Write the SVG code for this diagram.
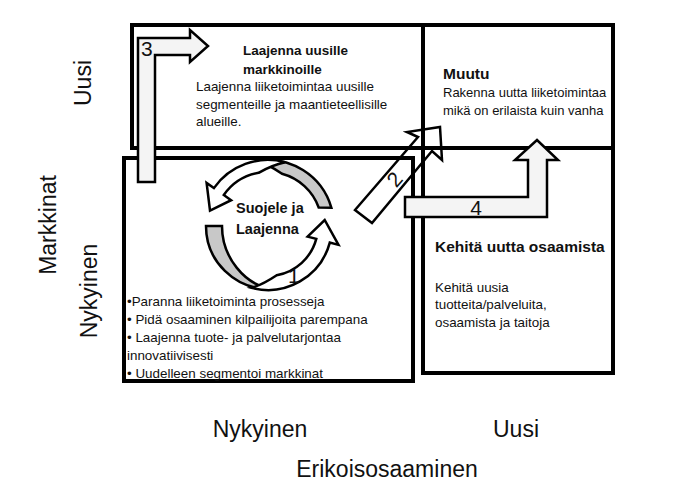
<svg xmlns="http://www.w3.org/2000/svg" width="695" height="495" viewBox="0 0 695 495">
<style>
.box{fill:#fff;stroke:#000;stroke-width:4}
.arr{fill:#f4f4f4;stroke:#000;stroke-width:2.5;stroke-linejoin:miter}
.arrn{fill:none;stroke:#000;stroke-width:2.5}
.gray{fill:#c8c8c8;stroke:#000;stroke-width:2.5}
.white{fill:#fff;stroke:#000;stroke-width:2.5}
.t{font-family:"Liberation Sans",Arial,sans-serif;fill:#111}
.h{font-size:13.5px;font-weight:bold}
.b{font-size:13.4px}
.ax{font-size:23px}
.num{font-size:21px}
</style>
<g id="axes">
<text class="t ax" transform="translate(91,83) rotate(-90)" text-anchor="middle">Uusi</text>
<text class="t ax" transform="translate(97,291) rotate(-90)" text-anchor="middle">Nykyinen</text>
<text class="t ax" transform="translate(56,225) rotate(-90)" text-anchor="middle">Markkinat</text>
<text class="t ax" x="260" y="437" text-anchor="middle">Nykyinen</text>
<text class="t ax" x="516" y="437" text-anchor="middle">Uusi</text>
<text class="t ax" x="387" y="477" text-anchor="middle">Erikoisosaaminen</text>
</g>
<g id="box-new-markets">
<rect class="box" x="132" y="25" width="291" height="123"/>
<text class="t h" x="243" y="55">Laajenna uusille</text>
<text class="t h" x="243" y="74">markkinoille</text>
<text class="t b" x="196" y="91">Laajenna liiketoimintaa uusille</text>
<text class="t b" x="196" y="109">segmenteille ja maantieteellisille</text>
<text class="t b" x="196" y="126">alueille.</text>
</g>
<g id="box-change">
<rect class="box" x="423" y="25" width="190" height="123"/>
<text class="t h" x="443" y="79" style="font-size:15.5px">Muutu</text>
<text class="t b" x="443" y="97" style="font-size:13px">Rakenna uutta liiketoimintaa</text>
<text class="t b" x="443" y="115" style="font-size:13px">mikä on erilaista kuin vanha</text>
</g>
<g id="box-develop">
<rect class="box" x="423" y="148" width="190" height="225"/>
<text class="t h" x="435" y="252" style="font-size:15.5px">Kehitä uutta osaamista</text>
<text class="t b" x="435" y="292">Kehitä uusia</text>
<text class="t b" x="435" y="309">tuotteita/palveluita,</text>
<text class="t b" x="435" y="327">osaamista ja taitoja</text>
</g>
<g id="box-protect">
<rect class="box" x="124" y="158" width="289" height="223"/>
<text class="t b" x="127" y="306">•Paranna liiketoiminta prosesseja</text>
<text class="t b" x="127" y="324">• Pidä osaaminen kilpailijoita parempana</text>
<text class="t b" x="127" y="342">• Laajenna tuote- ja palvelutarjontaa</text>
<text class="t b" x="127" y="360">innovatiivisesti</text>
<text class="t b" x="127" y="378">• Uudelleen segmentoi markkinat</text>
</g>
<g id="cycle">
<path class="gray" d="M318.7,207.5 L331.4,207.8 A66,66 0 0,0 256.5,161 Q268,164 282,173.8 A54,54 0 0,1 318.7,207.5 Z"/>
<path class="white" d="M285.1,162.2 A66,66 0 0,0 213.9,188.1 L206.6,183 L210,210.5 L231.1,200.2 L223.8,195 A54,54 0 0,1 258.6,172.8 Q272,165 285.1,162.2 Z"/>
<path class="gray" d="M222,226 L206,226 A63,63 0 0,0 270.2,289 C245,284 222,258 222,226 Z"/>
<path class="white" d="M251.4,287.8 A64,64 0 0,0 329.8,242.6 L338.5,244.9 L324.7,220 L307.6,236.6 L316.3,238.9 A50,50 0 0,1 276.7,275.2 Q262,285 251.4,287.8 Z"/>
<text class="t h" x="236" y="213" style="font-size:14.5px">Suojele ja</text>
<text class="t h" x="236" y="234" style="font-size:14.5px">Laajenna</text>
<text class="t num" x="288" y="283">1</text>
</g>
<g id="connectors">
<path class="arr" d="M138,182 L138,38 L190,38 L190,30 L208,46 L190,62 L190,55 L155,55 L155,182 Z"/>
<text class="t num" x="141" y="56">3</text>
<path class="arrn" d="M355,210 L418,137 L407,132 L440,127 L442,160 L432,151 L372,223 Z"/>
<text class="t num" transform="translate(400,184) rotate(-49)" text-anchor="middle">2</text>
<path class="arr" d="M405,197 L528,197 L528,160 L515,160 L537,140 L558,160 L547,160 L547,217 L405,217 Z"/>
<text class="t num" x="476" y="215" text-anchor="middle">4</text>
</g>
</svg>
